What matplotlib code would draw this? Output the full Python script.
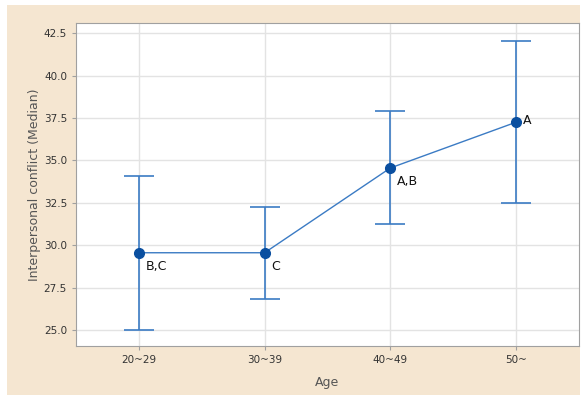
import matplotlib
matplotlib.use("Agg")
import matplotlib.pyplot as plt
from matplotlib.patches import Rectangle

ages = ["20~29", "30~39", "40~49", "50~"]
medians = [29.55, 29.55, 34.55, 37.25]
upper = [34.05, 32.25, 37.9, 42.05]
lower = [25.0, 26.85, 31.25, 32.5]
groups = ["B,C", "C", "A,B", "A"]

fig = plt.figure(figsize=(5.85, 3.95), dpi=100, facecolor="white")
fig.patches.append(Rectangle((7 / 585, 0), (580 - 7) / 585, 390 / 395,
                             transform=fig.transFigure, facecolor="#f5e6d1",
                             edgecolor="none", zorder=-10))
ax = fig.add_axes([76 / 585, 1 - 346 / 395, (579 - 76) / 585, (346 - 23) / 395])
ax.set_zorder(1)
ax.set_facecolor("white")

x = list(range(len(ages)))
err_lo = [m - l for m, l in zip(medians, lower)]
err_hi = [u - m for m, u in zip(medians, upper)]
ax.errorbar(x, medians, yerr=[err_lo, err_hi], fmt="none", ecolor="#3b7bc4",
            elinewidth=1.2, capsize=10.5, capthick=1.2, zorder=3)
ax.plot(x, medians, color="#3b7bc4", lw=1, zorder=4)
ax.plot(x, medians, "o", color="#0a4fa0", ms=7, zorder=5)

for i, (m, g) in enumerate(zip(medians, groups)):
    if g == "A":
        ax.annotate(g, (i, m), xytext=(5, 1), textcoords="offset points",
                    fontsize=9, va="center", color="#111111")
    else:
        ax.annotate(g, (i, m), xytext=(5, -5), textcoords="offset points",
                    fontsize=9, va="top", color="#111111")

ax.set_xlim(-0.5, 3.5)
ax.set_ylim(24.05, 43.1)
ax.set_xticks(x)
ax.set_xticklabels(ages)
ax.set_yticks([25.0, 27.5, 30.0, 32.5, 35.0, 37.5, 40.0, 42.5])
ax.yaxis.set_major_formatter(matplotlib.ticker.FormatStrFormatter("%.1f"))
ax.grid(True, color="#e3e3e3", lw=1)
ax.set_axisbelow(True)
for s in ax.spines.values():
    s.set_color("#a0a0a0")
ax.tick_params(labelsize=7.5, colors="#a0a0a0", labelcolor="#333333", length=3)
ax.set_xlabel("Age", fontsize=9, color="#555555", labelpad=8)
ax.set_ylabel("Interpersonal conflict (Median)", fontsize=9, color="#555555", labelpad=2)

fig.savefig("out.png", dpi=100, facecolor=fig.get_facecolor())
